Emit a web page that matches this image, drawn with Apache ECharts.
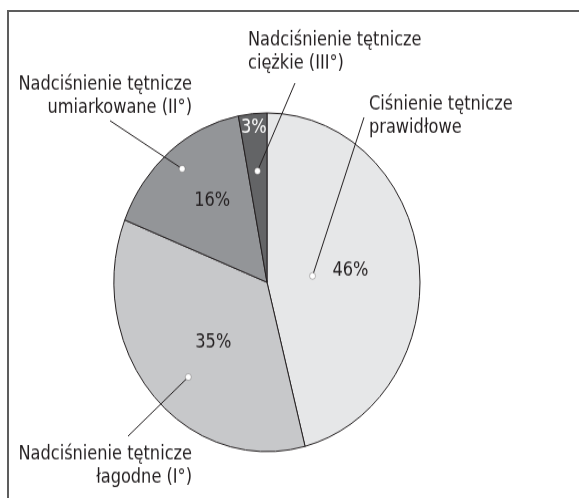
<!DOCTYPE html>
<html>
<head>
<meta charset="utf-8">
<script src="https://cdn.jsdelivr.net/npm/echarts@6/dist/echarts.min.js"></script>
<style>
html, body { margin: 0; padding: 0; background: #fff; overflow: hidden; }
#frame { position: absolute; left: 7px; top: 10px; width: 580px; height: 500px;
  border-top: 2px solid #5d5d5d; border-left: 2px solid #5d5d5d; }
/* the original figure is stretched a little in height */
#pie { position: absolute; left: 0; top: 0; width: 579px; height: 450px;
  transform: scaleY(1.107); transform-origin: 0 0; }
</style>
</head>
<body>
<div id="frame"></div>
<div id="pie"></div>
<script>
var categories = ['Ciśnienie tętnicze\nprawidłowe', 'Nadciśnienie tętnicze\nłagodne (I°)',
  'Nadciśnienie tętnicze\numiarkowane (II°)', 'Nadciśnienie tętnicze\nciężkie (III°)'];
var shares = [46, 35, 16, 3];

var colors = ['#e6e7e8', '#c7c8ca', '#939598', '#636466'];
var font = '"Liberation Sans Narrow", "DejaVu Sans Condensed", "Liberation Sans", sans-serif';
var cx = 267, cy = 255, R = 153;

// where the % text and the callout dot sit inside each slice (radius fraction, angle shift)
var pctPlace = [[0.55, 0], [0.5, -4], [0.6, 3], [0.92, 0]];
var dotPlace = [[0.3, 0], [0.76, -6], [0.87, 0], [0.66, 0]];
// callout text anchor, alignment and far end of the leader line
var callouts = [
  {x: 369, y: 105, align: 'left',  end: [364, 106]},
  {x: 192, y: 421, align: 'right', end: [128, 394]},
  {x: 192, y: 87,  align: 'right', end: [110, 109]},
  {x: 248, y: 47,  align: 'left',  end: [295, 75]}
];

var total = shares.reduce(function (a, b) { return a + b; }, 0);
var mids = [], acc = 0;
shares.forEach(function (v) { mids.push((acc + v / 2) / total * 360); acc += v; });

function polar(frac, deg) {
  var a = deg * Math.PI / 180;
  return [cx + frac * R * Math.sin(a), cy - frac * R * Math.cos(a)];
}
function dotAt(i) { return polar(dotPlace[i][0], mids[i] + dotPlace[i][1]); }

var pieData = shares.map(function (v, i) {
  return {name: categories[i], value: v, itemStyle: {color: colors[i]},
    label: {color: i === 3 ? '#ffffff' : '#231f20'}};
});

// leader lines and the white dots they start from
var leaders = [];
shares.forEach(function (v, i) {
  var d = dotAt(i);
  leaders.push({type: 'polyline', z: 90, silent: true,
    shape: {points: [d, callouts[i].end]},
    style: {stroke: '#231f20', lineWidth: 1, fill: null}});
  leaders.push({type: 'circle', z: 100, silent: true, shape: {cx: d[0], cy: d[1], r: 3},
    style: {fill: '#ffffff', stroke: '#231f20', lineWidth: 0.3}});
});

var myChart = echarts.init(document.getElementById('pie'));

option = {
  animation: false,
  series: [{
    type: 'pie',
    center: [cx, cy],
    radius: R,
    startAngle: 90,
    clockwise: true,
    silent: true,
    data: pieData,
    itemStyle: {borderColor: '#231f20', borderWidth: 1},
    label: {position: 'inside', formatter: '{c}%', fontFamily: font, fontSize: 18},
    labelLine: {show: false},
    labelLayout: function (p) {
      var i = p.dataIndex;
      var pt = polar(pctPlace[i][0], mids[i] + pctPlace[i][1]);
      return {x: pt[0], y: pt[1], align: 'center', verticalAlign: 'middle'};
    }
  }, {
    type: 'pie',
    center: [cx, cy],
    radius: R,
    startAngle: 90,
    silent: true,
    avoidLabelOverlap: false,
    data: shares.map(function (v, i) { return {name: categories[i], value: v}; }),
    itemStyle: {color: 'rgba(0,0,0,0)', borderWidth: 0},
    label: {position: 'outside', formatter: '{b}', fontFamily: font, fontSize: 18,
      lineHeight: 21, color: '#231f20'},
    labelLine: {show: false},
    labelLayout: function (p) {
      var c = callouts[p.dataIndex];
      return {x: c.x, y: c.y, align: c.align, verticalAlign: 'middle'};
    }
  }],
  graphic: leaders
};

myChart.setOption(option);
</script>
</body>
</html>
